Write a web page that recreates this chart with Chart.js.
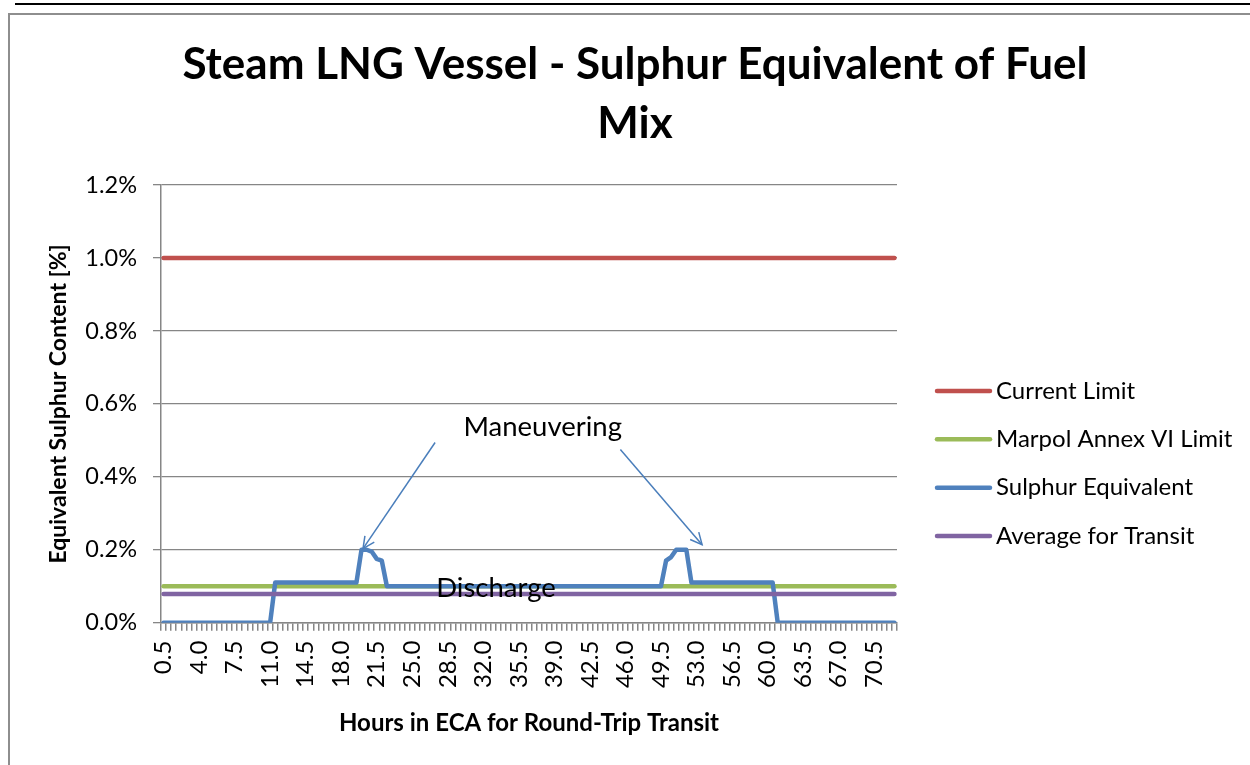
<!DOCTYPE html>
<html>
<head>
<meta charset="utf-8">
<script src="https://cdn.jsdelivr.net/npm/chart.js@4.4.1/dist/chart.umd.min.js"></script>
<style>
  html, body { margin: 0; padding: 0; background: #fff; overflow: hidden; width: 1250px; height: 765px; }
  #topRule { position: absolute; left: 15px; top: 3px; width: 1240px; height: 2px; background: #000; }
  #frame { position: absolute; left: 8px; top: 13px; width: 1300px; height: 800px; border: 2px solid #8e8e8e; box-sizing: border-box; }
  #wrap { position: absolute; left: 0; top: 0; width: 1270px; height: 765px; }
</style>
</head>
<body>
<div id="topRule"></div>
<div id="frame"></div>
<div id="wrap"><canvas id="chart" width="1270" height="765"></canvas></div>
<script>
// hours in ECA, one category per half hour
const HOURS = [
  '0.5','1.0','1.5','2.0','2.5','3.0','3.5','4.0','4.5','5.0',
  '5.5','6.0','6.5','7.0','7.5','8.0','8.5','9.0','9.5','10.0',
  '10.5','11.0','11.5','12.0','12.5','13.0','13.5','14.0','14.5','15.0',
  '15.5','16.0','16.5','17.0','17.5','18.0','18.5','19.0','19.5','20.0',
  '20.5','21.0','21.5','22.0','22.5','23.0','23.5','24.0','24.5','25.0',
  '25.5','26.0','26.5','27.0','27.5','28.0','28.5','29.0','29.5','30.0',
  '30.5','31.0','31.5','32.0','32.5','33.0','33.5','34.0','34.5','35.0',
  '35.5','36.0','36.5','37.0','37.5','38.0','38.5','39.0','39.5','40.0',
  '40.5','41.0','41.5','42.0','42.5','43.0','43.5','44.0','44.5','45.0',
  '45.5','46.0','46.5','47.0','47.5','48.0','48.5','49.0','49.5','50.0',
  '50.5','51.0','51.5','52.0','52.5','53.0','53.5','54.0','54.5','55.0',
  '55.5','56.0','56.5','57.0','57.5','58.0','58.5','59.0','59.5','60.0',
  '60.5','61.0','61.5','62.0','62.5','63.0','63.5','64.0','64.5','65.0',
  '65.5','66.0','66.5','67.0','67.5','68.0','68.5','69.0','69.5','70.0',
  '70.5','71.0','71.5','72.0','72.5'
];

// sulphur equivalent of the fuel mix [%], same rows as HOURS
const SULPHUR_EQ = [
  0,0,0,0,0,0,0,0,0,0,
  0,0,0,0,0,0,0,0,0,0,
  0,0,0.11,0.11,0.11,0.11,0.11,0.11,0.11,0.11,
  0.11,0.11,0.11,0.11,0.11,0.11,0.11,0.11,0.11,0.2,
  0.2,0.195,0.175,0.17,0.1,0.1,0.1,0.1,0.1,0.1,
  0.1,0.1,0.1,0.1,0.1,0.1,0.1,0.1,0.1,0.1,
  0.1,0.1,0.1,0.1,0.1,0.1,0.1,0.1,0.1,0.1,
  0.1,0.1,0.1,0.1,0.1,0.1,0.1,0.1,0.1,0.1,
  0.1,0.1,0.1,0.1,0.1,0.1,0.1,0.1,0.1,0.1,
  0.1,0.1,0.1,0.1,0.1,0.1,0.1,0.1,0.1,0.17,
  0.18,0.2,0.2,0.2,0.11,0.11,0.11,0.11,0.11,0.11,
  0.11,0.11,0.11,0.11,0.11,0.11,0.11,0.11,0.11,0.11,
  0.11,0,0,0,0,0,0,0,0,0,
  0,0,0,0,0,0,0,0,0,0,
  0,0,0,0,0
];

// flat lines, given by their two end points
const CURRENT_LIMIT = [{x: '0.5', y: 1.0}, {x: '72.5', y: 1.0}];
const MARPOL_LIMIT  = [{x: '0.5', y: 0.1}, {x: '72.5', y: 0.1}];
const TRANSIT_AVG   = [{x: '0.5', y: 0.079}, {x: '72.5', y: 0.079}];

const SERIES_NAMES = ['Current Limit', 'Marpol Annex VI Limit', 'Sulphur Equivalent', 'Average for Transit'];
const Y_TICKS = [0, 0.2, 0.4, 0.6, 0.8, 1.0, 1.2];

const TITLE = ['Steam LNG Vessel - Sulphur Equivalent of Fuel', 'Mix'];
const X_TITLE = 'Hours in ECA for Round-Trip Transit';
const Y_TITLE = 'Equivalent Sulphur Content [%]';

// notes placed in data units: category index, percent
const NOTES = [
  {text: 'Maneuvering', x: 74.7, y: 0.536},
  {text: 'Discharge', x: 65.5, y: 0.095}
];
const ARROWS = [
  {from: [53.5, 0.494], to: [39.3, 0.203]},
  {from: [90.0, 0.475], to: [106.1, 0.214]}
];

const FONT = "Lato, 'Open Sans', sans-serif";
Chart.defaults.font.family = FONT;
Chart.defaults.color = '#000';

const GRID = '#868686';

// title is centred on the whole chart frame, not on the plot
const titleSpan = {
  id: 'titleSpan',
  afterLayout(chart) {
    if (chart.titleBlock) {
      chart.titleBlock.left = 0;
      chart.titleBlock.right = chart.width;
    }
  }
};

const notesPlugin = {
  id: 'notes',
  afterDatasetsDraw(chart) {
    const ctx = chart.ctx, xs = chart.scales.x, ys = chart.scales.y;
    ctx.save();
    ctx.strokeStyle = '#4a7ebb';
    ctx.lineWidth = 1.5;
    ARROWS.forEach(a => {
      const x1 = xs.getPixelForValue(a.from[0]), y1 = ys.getPixelForValue(a.from[1]);
      const x2 = xs.getPixelForValue(a.to[0]), y2 = ys.getPixelForValue(a.to[1]);
      ctx.beginPath();
      ctx.moveTo(x1, y1);
      ctx.lineTo(x2, y2);
      ctx.stroke();
      const ang = Math.atan2(y2 - y1, x2 - x1);
      const len = 13, spread = 0.45;
      ctx.beginPath();
      ctx.moveTo(x2 - len * Math.cos(ang - spread), y2 - len * Math.sin(ang - spread));
      ctx.lineTo(x2, y2);
      ctx.lineTo(x2 - len * Math.cos(ang + spread), y2 - len * Math.sin(ang + spread));
      ctx.stroke();
    });
    ctx.fillStyle = '#000';
    ctx.font = '27.5px ' + FONT;
    ctx.textAlign = 'center';
    ctx.textBaseline = 'middle';
    NOTES.forEach(n => {
      ctx.fillText(n.text, xs.getPixelForValue(n.x), ys.getPixelForValue(n.y));
    });
    ctx.restore();
  }
};

const sideLegend = {
  id: 'sideLegend',
  afterDraw(chart, args, opts) {
    const ctx = chart.ctx, area = chart.chartArea;
    ctx.save();
    ctx.font = opts.fontSize + 'px ' + FONT;
    ctx.textBaseline = 'middle';
    ctx.textAlign = 'left';
    chart.data.datasets.forEach((ds, i) => {
      const y = area.top + opts.top + i * opts.step;
      const x = area.right + opts.gap;
      ctx.strokeStyle = ds.borderColor;
      ctx.lineWidth = ds.borderWidth;
      ctx.lineCap = 'round';
      ctx.beginPath();
      ctx.moveTo(x, y);
      ctx.lineTo(x + opts.lineLen, y);
      ctx.stroke();
      ctx.fillStyle = '#000';
      ctx.fillText(ds.label, x + opts.lineLen + 6, y);
    });
    ctx.restore();
  }
};

function lineSet(label, data, color, order) {
  return {
    label: label,
    data: data,
    borderColor: color,
    backgroundColor: color,
    borderWidth: 4.5,
    pointRadius: 0,
    tension: 0,
    borderJoinStyle: 'round',
    borderCapStyle: 'round',
    fill: false,
    order: order
  };
}

new Chart(document.getElementById('chart'), {
  type: 'line',
  data: {
    labels: HOURS,
    datasets: [
      lineSet(SERIES_NAMES[0], CURRENT_LIMIT, '#c0504d', 4),
      lineSet(SERIES_NAMES[1], MARPOL_LIMIT, '#9bbb59', 3),
      lineSet(SERIES_NAMES[2], SULPHUR_EQ, '#4f81bd', 2),
      lineSet(SERIES_NAMES[3], TRANSIT_AVG, '#8064a2', 1)
    ]
  },
  options: {
    responsive: false,
    animation: false,
    events: [],
    layout: { padding: { left: 44, right: 373, top: 36, bottom: 0 } },
    plugins: {
      legend: { display: false },
      tooltip: { enabled: false },
      title: {
        display: true,
        text: TITLE,
        color: '#000',
        font: { size: 44, weight: 'bold', lineHeight: 1.33 },
        padding: { top: 0, bottom: 32 }
      },
      sideLegend: { top: 206, step: 48.3, gap: 40, lineLen: 53, fontSize: 24 }
    },
    scales: {
      x: {
        type: 'category',
        offset: true,
        grid: { offset: true, drawOnChartArea: false, color: GRID, lineWidth: 1.5, tickLength: 8 },
        border: { color: GRID, width: 1.5 },
        ticks: {
          autoSkip: false,
          minRotation: 90,
          maxRotation: 90,
          padding: 10,
          font: { size: 24 },
          callback: function (val, idx) { return idx % 7 === 0 ? this.getLabelForValue(val) : ''; }
        },
        title: { display: true, text: X_TITLE, font: { size: 24, weight: 'bold' }, padding: { top: 0, bottom: 27 } },
        afterFit(scale) { scale.height = 142.3; }
      },
      y: {
        min: 0,
        max: 1.2,
        afterBuildTicks(scale) { scale.ticks = Y_TICKS.map(v => ({ value: v })); },
        grid: { color: GRID, lineWidth: 1.3, tickLength: 8 },
        border: { color: GRID, width: 1.5 },
        ticks: {
          padding: 16,
          font: { size: 23.5 },
          callback: v => v.toFixed(1) + '%'
        },
        title: { display: true, text: Y_TITLE, font: { size: 23, weight: 'bold' }, padding: { top: 1, bottom: 0 } },
        afterFit(scale) { scale.width = 117; }
      }
    }
  },
  plugins: [titleSpan, notesPlugin, sideLegend]
});
</script>
</body>
</html>
